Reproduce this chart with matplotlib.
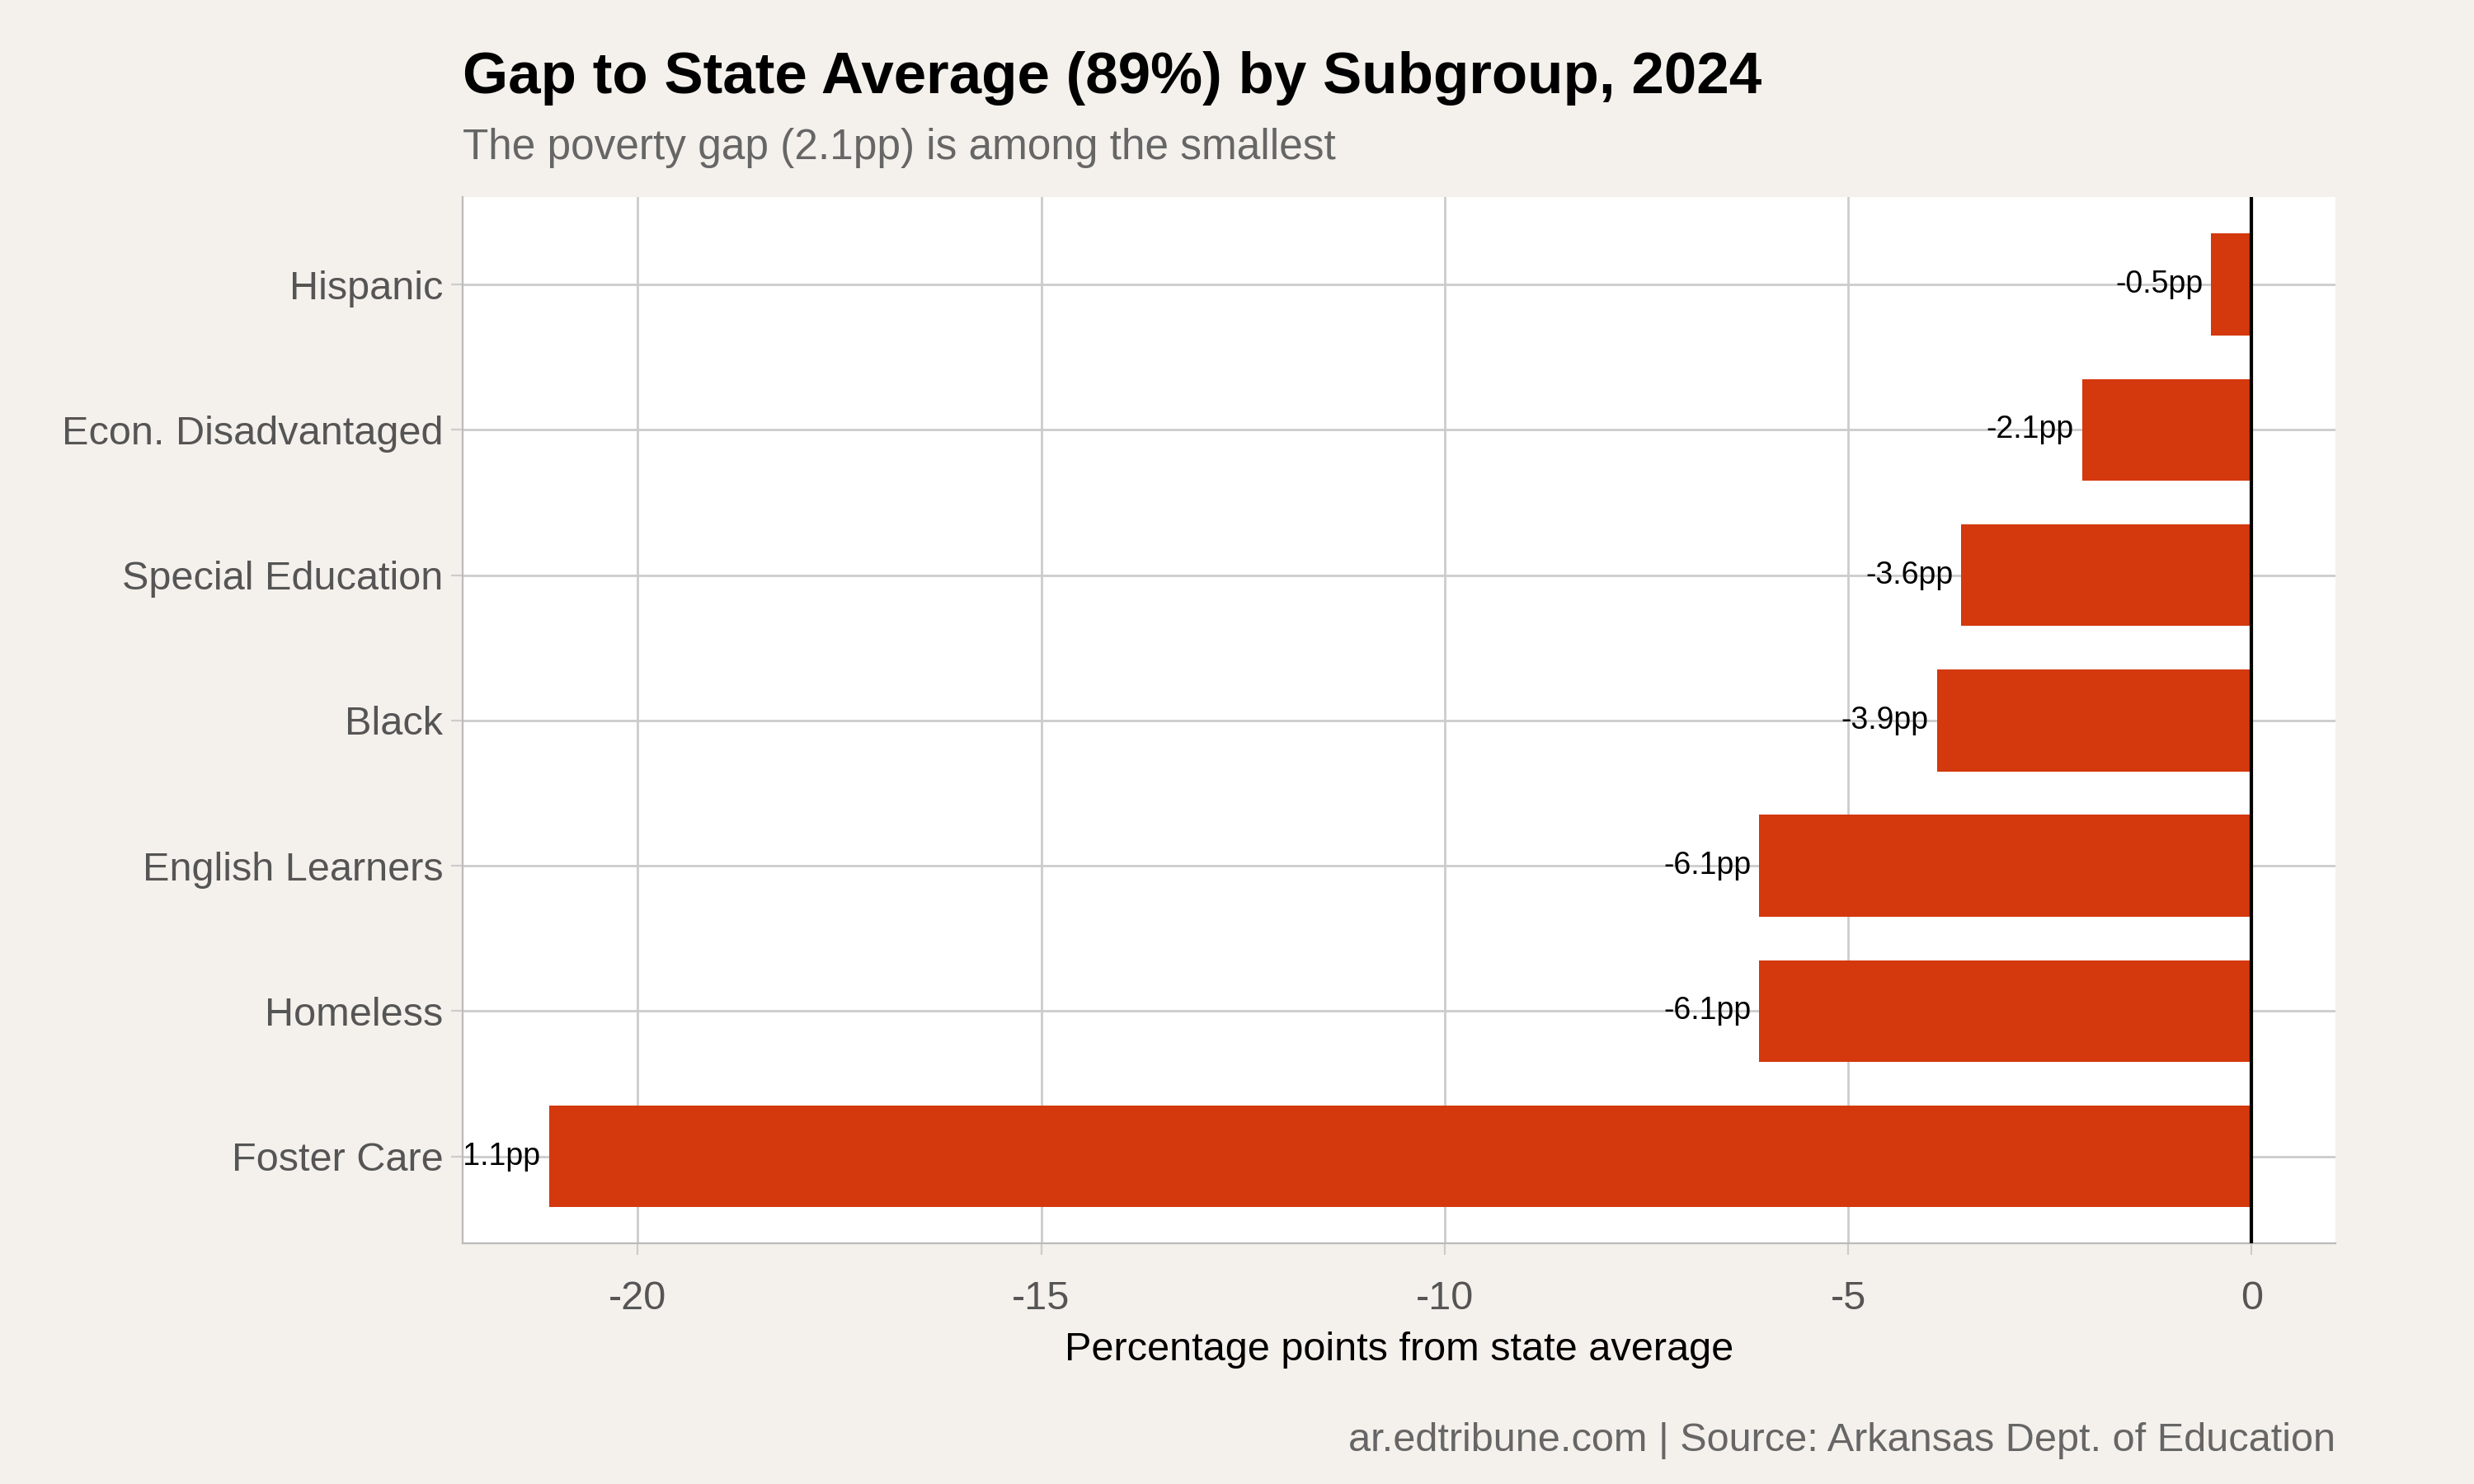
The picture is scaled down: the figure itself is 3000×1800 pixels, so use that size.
import matplotlib.pyplot as plt

plt.rcParams['font.family'] = ['Liberation Sans', 'DejaVu Sans']

groups = ["Foster Care", "Homeless", "English Learners", "Black",
          "Special Education", "Econ. Disadvantaged", "Hispanic"]
gaps = [-21.1, -6.1, -6.1, -3.9, -3.6, -2.1, -0.5]
xticks = [-20, -15, -10, -5, 0]

bg = "#f4f1ec"
bar_color = "#d4380d"

fig = plt.figure(figsize=(15, 9), dpi=200, facecolor=bg)
ax = fig.add_axes([0.187, 0.162, 0.757, 0.705])
ax.set_facecolor("white")

y = range(len(groups))
ax.barh(y, gaps, height=0.7, color=bar_color, zorder=2)
for yi, v in zip(y, gaps):
    ax.text(v - 0.1, yi, f"{v:.1f}pp", ha="right", va="center",
            fontsize=13.5, color="black", clip_on=True, zorder=3)

ax.axvline(0, color="black", lw=1.5, zorder=3)
ax.set_xlim(-22.17, 1.04)
ax.set_ylim(-0.6, 6.6)
ax.set_yticks(list(y))
ax.set_yticklabels(groups)
ax.set_xticks(xticks)
ax.set_xticklabels([str(t) for t in xticks])
ax.grid(True, color="#cccccc", lw=1, zorder=0)
ax.tick_params(axis="both", labelsize=17.5, colors="#555555", length=5,
               color="#cccccc")
ax.tick_params(axis="x", pad=11)
for s in ["top", "right"]:
    ax.spines[s].set_visible(False)
for s in ["left", "bottom"]:
    ax.spines[s].set_color("#bbbbbb")
ax.set_xlabel("Percentage points from state average", fontsize=17.5,
              color="black", labelpad=6)

fig.text(0.187, 0.937, "Gap to State Average (89%) by Subgroup, 2024",
         fontsize=25.5, fontweight="bold", ha="left", va="baseline")
fig.text(0.187, 0.893, "The poverty gap (2.1pp) is among the smallest",
         fontsize=18.5, color="#666666", ha="left", va="baseline")
fig.text(0.944, 0.022, "ar.edtribune.com | Source: Arkansas Dept. of Education",
         fontsize=17.5, color="#666666", ha="right", va="baseline")

fig.savefig("out.png", dpi=200, facecolor=bg)
